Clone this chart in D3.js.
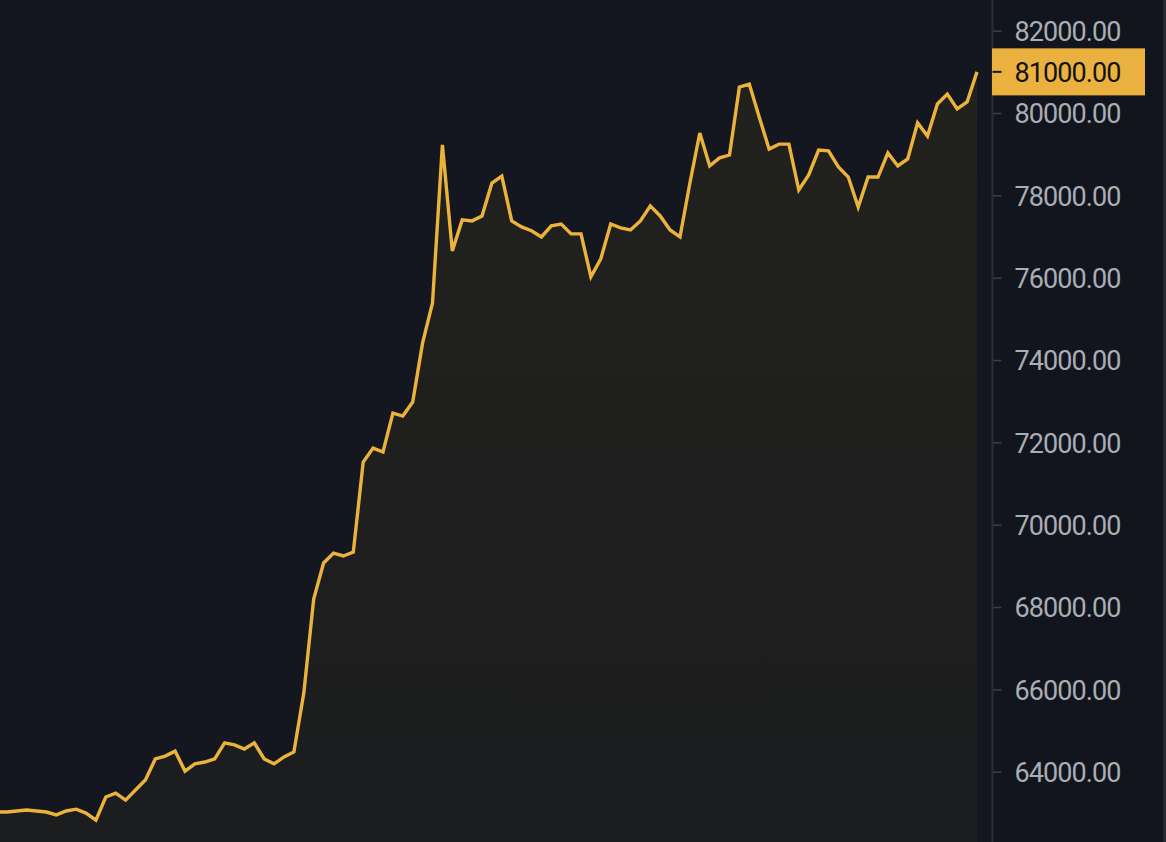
<!DOCTYPE html>
<html>
<head>
<meta charset="utf-8">
<script src="https://cdn.jsdelivr.net/npm/d3@7/dist/d3.min.js"></script>
<style>
  html, body { margin: 0; padding: 0; background: #13161e; overflow: hidden; }
  svg { display: block; }
</style>
</head>
<body>
<svg id="chart" width="1166" height="842"></svg>
<script>
// ---- data ----
const prices = [
  63020, 63020, 63045, 63070, 63045, 63020, 62950, 63045, 63090, 62995,
  62825, 63385, 63480, 63310, 63555, 63800, 64310, 64380, 64500, 64015,
  64190, 64235, 64310, 64700, 64650, 64550, 64700, 64310, 64190, 64360,
  64480, 65910, 68195, 69070, 69310, 69240, 69335, 71520, 71860, 71765,
  72710, 72640, 72980, 74415, 75385, 79225, 76650, 77405, 77380, 77500,
  78300, 78470, 77380, 77235, 77140, 76990, 77260, 77305, 77065, 77065,
  76020, 76460, 77305, 77210, 77160, 77380, 77745, 77500, 77160, 76990,
  78300, 79515, 78715, 78910, 78980, 80630, 80705, 79905, 79125, 79245,
  79245, 78130, 78495, 79100, 79080, 78690, 78445, 77715, 78445, 78445,
  79030, 78715, 78885, 79760, 79440, 80220, 80460, 80100, 80270, 81000
];
const yTicks = [64000, 66000, 68000, 70000, 72000, 74000, 76000, 78000, 80000, 82000];
const lastPrice = 81000;

// ---- layout ----
const W = 1166, H = 842;
const plotRight = 992;
const svg = d3.select("#chart");

const x = d3.scaleLinear().domain([0, prices.length - 1]).range([-3.1, 977]);
const y = d3.scaleLinear().domain([64000, 82000]).range([771.7, 30.7]);

// backgrounds
svg.append("rect").attr("x", 0).attr("y", 0).attr("width", W).attr("height", H).attr("fill", "#13161e");
svg.append("rect").attr("x", 0).attr("y", 0).attr("width", plotRight).attr("height", H).attr("fill", "#14171f");
svg.append("rect").attr("x", plotRight).attr("y", 0).attr("width", W - plotRight).attr("height", H).attr("fill", "#12151d");

// gradient for area
const defs = svg.append("defs");
const grad = defs.append("linearGradient").attr("id", "areaGrad")
  .attr("x1", 0).attr("y1", 0).attr("x2", 0).attr("y2", 1);
grad.append("stop").attr("offset", "0%").attr("stop-color", "#f0b90b").attr("stop-opacity", 0.062);
grad.append("stop").attr("offset", "100%").attr("stop-color", "#f0b90b").attr("stop-opacity", 0.035);

const idx = d3.range(prices.length);

const area = d3.area()
  .x(i => x(i))
  .y0(H)
  .y1(i => y(prices[i]));

const line = d3.line()
  .x(i => x(i))
  .y(i => y(prices[i]));

svg.append("path").datum(idx).attr("d", area).attr("fill", "url(#areaGrad)");
svg.append("path").datum(idx).attr("d", line)
  .attr("fill", "none").attr("stroke", "#ecb33c").attr("stroke-width", 3.4)
  .attr("stroke-linejoin", "miter").attr("stroke-miterlimit", 4);

// axis
const axisG = svg.append("g").attr("transform", `translate(${plotRight + 0.5},0)`);
const axis = d3.axisRight(y).tickValues(yTicks).tickSize(9).tickPadding(13)
  .tickFormat(d => d3.format(".2f")(d));
axisG.call(axis);
axisG.select(".domain").remove();
axisG.selectAll(".tick line").attr("stroke", "#3a3f4b").attr("stroke-width", 1.5);
axisG.selectAll(".tick text")
  .attr("fill", "#a9adb4")
  .attr("font-family", "Roboto, 'Noto Sans', sans-serif")
  .attr("font-size", 27)
  .attr("letter-spacing", "-0.9px")
  .attr("dy", "0.36em");

svg.append("line").attr("x1", plotRight + 0.5).attr("x2", plotRight + 0.5)
  .attr("y1", 0).attr("y2", H).attr("stroke", "#2a2e39").attr("stroke-width", 2);

svg.append("rect").attr("x", 1163).attr("y", 0).attr("width", 3).attr("height", H).attr("fill", "#262a35");

// last price tag
const tagY = y(lastPrice);
const tag = svg.append("g");
tag.append("rect").attr("x", plotRight).attr("y", tagY - 23.5).attr("width", 153).attr("height", 47)
  .attr("fill", "#ebb13f");
tag.append("line").attr("x1", plotRight + 0.5).attr("x2", plotRight + 9.5)
  .attr("y1", tagY).attr("y2", tagY).attr("stroke", "#14161a").attr("stroke-width", 2);
tag.append("text").attr("x", plotRight + 0.5 + 22).attr("y", tagY).attr("dy", "0.36em")
  .attr("fill", "#121317")
  .attr("font-family", "Roboto, 'Noto Sans', sans-serif")
  .attr("font-size", 27)
  .attr("letter-spacing", "-0.9px")
  .text(d3.format(".2f")(lastPrice));
</script>
</body>
</html>
